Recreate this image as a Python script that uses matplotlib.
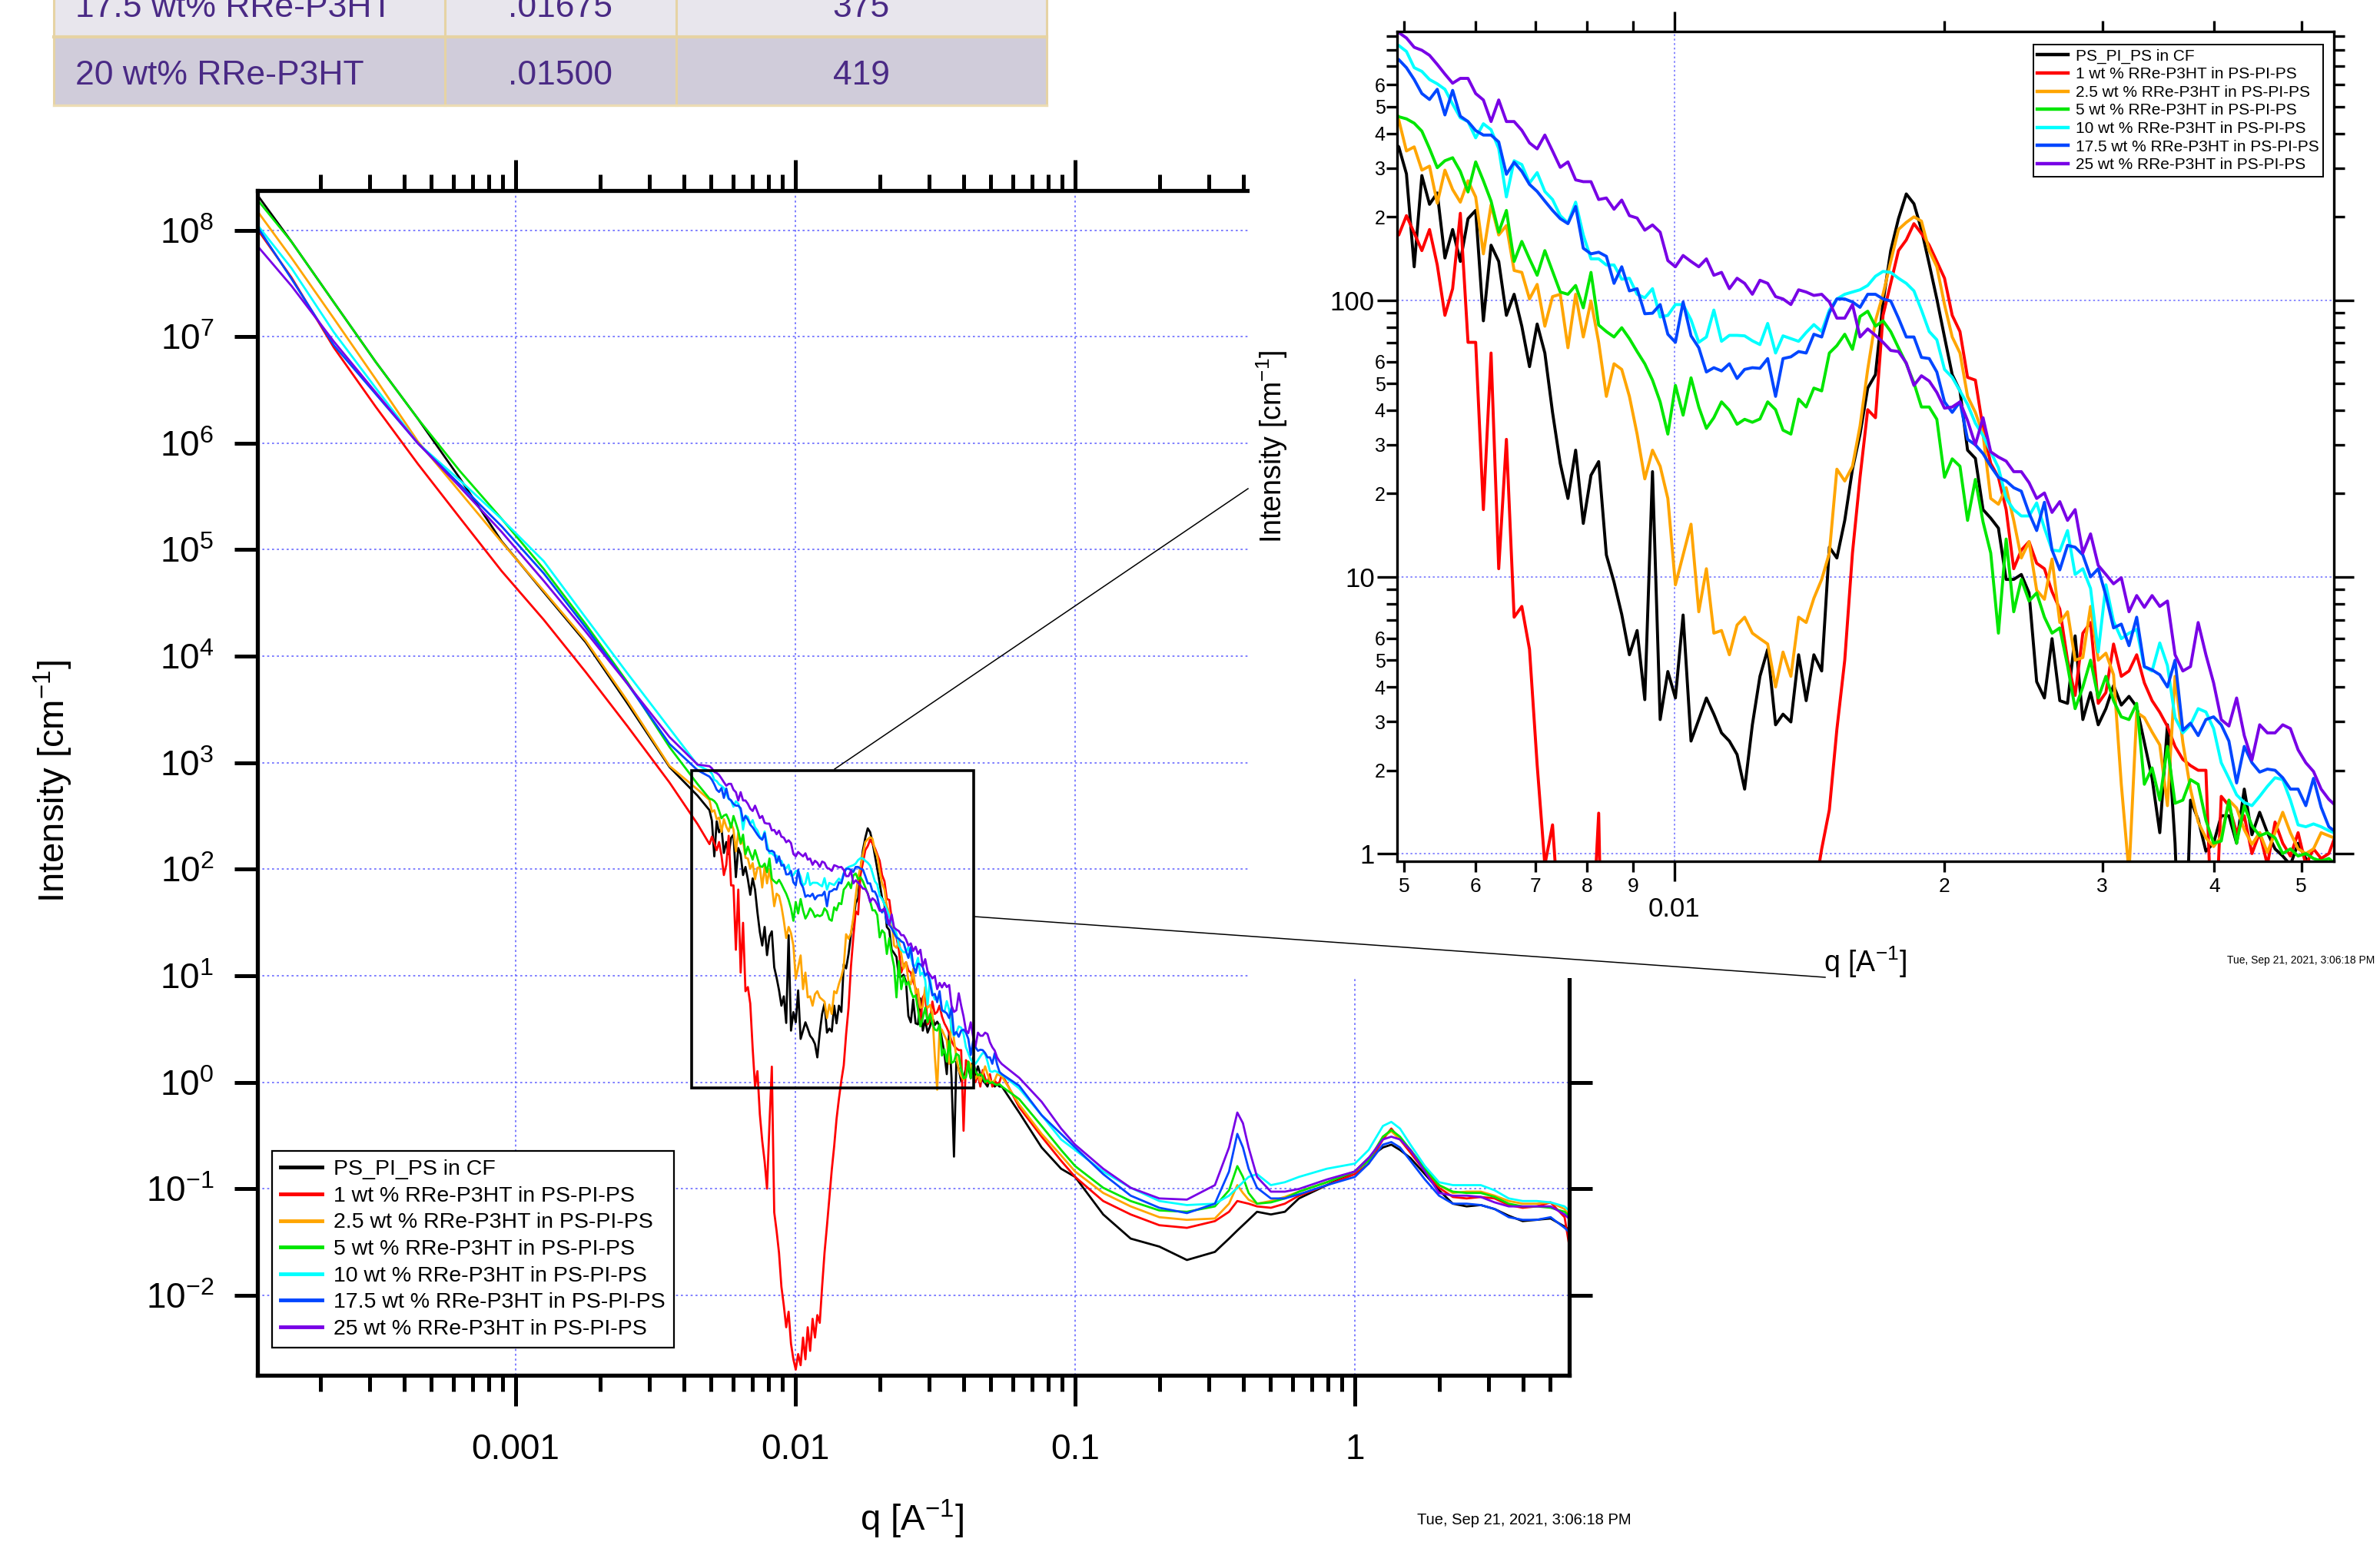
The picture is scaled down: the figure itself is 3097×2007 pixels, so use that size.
from __future__ import annotations

import matplotlib
matplotlib.use("Agg")
import matplotlib.pyplot as plt
from matplotlib.lines import Line2D
from matplotlib.patches import Rectangle
from matplotlib.ticker import FixedFormatter, FixedLocator, LogLocator, NullLocator

# scattering vector q [1/A]: low q, the zoomed window, high q
q_low = [1.20e-4, 1.58e-4, 2.24e-4, 3.16e-4, 4.47e-4, 6.31e-4, 8.91e-4,
         1.26e-3, 1.78e-3, 2.51e-3, 3.55e-3, 4.47e-3]
q_mid = [0.004931, 0.005029, 0.005130, 0.005232, 0.005336, 0.005443, 0.005551, 0.005662,
         0.005775, 0.005890, 0.006007, 0.006127, 0.006249, 0.006373, 0.006500, 0.006630,
         0.006762, 0.006897, 0.007034, 0.007174, 0.007317, 0.007463, 0.007612, 0.007764,
         0.007918, 0.008076, 0.008237, 0.008401, 0.008568, 0.008739, 0.008913, 0.009091,
         0.009272, 0.009457, 0.009645, 0.009837, 0.01003, 0.01023, 0.01044, 0.01065,
         0.01086, 0.01107, 0.01129, 0.01152, 0.01175, 0.01198, 0.01222, 0.01246,
         0.01271, 0.01297, 0.01322, 0.01349, 0.01376, 0.01403, 0.01431, 0.01460,
         0.01489, 0.01518, 0.01549, 0.01580, 0.01611, 0.01643, 0.01676, 0.01709,
         0.01743, 0.01778, 0.01814, 0.01850, 0.01886, 0.01924, 0.01962, 0.02001,
         0.02041, 0.02082, 0.02123, 0.02166, 0.02209, 0.02253, 0.02298, 0.02344,
         0.02390, 0.02437, 0.02486, 0.02535, 0.02586, 0.02637, 0.02690, 0.02744,
         0.02798, 0.02854, 0.02911, 0.02969, 0.03028, 0.03088, 0.03150, 0.03213,
         0.03277, 0.03342, 0.03409, 0.03477, 0.03546, 0.03616, 0.03689, 0.03762,
         0.03837, 0.03914, 0.03992, 0.04071, 0.04152, 0.04235, 0.04319, 0.04405,
         0.04493, 0.04583, 0.04674, 0.04767, 0.04862, 0.04959, 0.05058, 0.05159,
         0.05261, 0.05366, 0.05473]
q_high = [0.0631, 0.0759, 0.0891, 0.100, 0.126, 0.158, 0.200, 0.251, 0.316, 0.355,
          0.380, 0.398, 0.417, 0.447, 0.501, 0.562, 0.631, 0.794, 1.00, 1.12, 1.26,
          1.35, 1.45, 1.58, 1.78, 2.00, 2.24, 2.51, 2.82, 3.16, 3.55, 3.98, 4.47,
          5.01, 5.62, 5.89]

# intensity [1/cm] for each sample
black_low = [2.1e8, 7.8e7, 2.1e7, 5.8e6, 1.7e6, 4.7e5, 1.2e5, 4.0e4, 1.35e4, 3.6e3, 910, 490]
black_mid = [358, 286, 132, 282, 222, 244, 142, 180, 138, 197, 211, 84.2, 158, 138, 88.1, 105,
             80.5, 57.5, 82.0, 64.4, 39.3, 25.7, 19.2, 28.7, 15.6, 23.3, 26.1, 12.0, 9.57, 7.32,
             5.23, 6.40, 3.60, 24.0, 3.05, 4.55, 3.65, 7.28, 2.55, 3.05, 3.65,
             3.19, 2.73, 2.55, 2.28, 1.71, 2.92, 4.37, 5.47, 2.92, 3.19, 2.99, 5.23, 3.57, 5.23,
             4.57, 12.8, 11.7, 16.0, 24.5, 32.8, 48.1, 53.8, 98.5, 151, 197, 242, 223, 180, 135,
             101, 73.6, 53.8, 47.0, 28.7, 26.8, 17.5, 16.3, 15.0, 9.79,
             9.79, 10.2, 8.75, 4.18, 3.65, 5.98, 3.57, 3.49, 6.12, 3.05, 3.82, 2.92, 3.34, 4.05,
             3.44, 3.70, 3.39, 2.52, 1.87, 1.19, 2.92, 1.09, 0.2, 1.56, 1.33, 1.02, 1.09, 1.37,
             1.37, 1.09, 1.71, 1.17, 1.41, 1.19, 1.04, 0.98, 0.91, 1.09, 0.96, 0.91, 0.96, 0.91,
             0.91]
black_high = [0.519, 0.244, 0.154, 0.129, 0.0573, 0.034, 0.0286, 0.0214, 0.0255, 0.034,
              0.0405, 0.0454, 0.051, 0.0607, 0.0573, 0.0607, 0.081, 0.108, 0.145, 0.194,
              0.244, 0.259, 0.231, 0.194, 0.137, 0.0966, 0.0723, 0.0682, 0.0702, 0.0644,
              0.0557, 0.0496, 0.051, 0.0525, 0.0441, 0.0405]

red_low = [1.0e8, 3.6e7, 7.9e6, 2.2e6, 6.4e5, 2.0e5, 6.3e4, 2.2e4, 7.1e3, 2.2e3, 650, 265]
red_mid = [172, 202, 175, 151, 180, 134, 88.1, 110, 206, 70.4, 70.4, 17.5, 64.4, 10.7, 31.4,
           7.15, 7.82, 5.47, 2.09, 0.91, 1.27,
           0.5, 0.28, 0.18, 0.1, 0.4, 1.4, 0.06, 0.04, 0.025, 0.012, 0.008, 0.005, 0.007,
           0.0035, 0.0025, 0.002, 0.0028, 0.0022, 0.004, 0.0025, 0.005, 0.003, 0.006, 0.004,
           0.0065, 0.0055, 0.012, 0.025, 0.045, 0.08, 0.15, 0.25, 0.45, 0.7,
           1.04, 1.44, 2.81, 5.00, 12.2, 22.9, 40.2, 37.6, 88.1, 115, 151, 165, 189, 174, 158,
           138, 120, 88.1, 77.0, 52.6, 51.4, 34.4, 25.7, 22.9, 17.5,
           10.7, 12.5, 13.4, 11.2, 10.7, 8.84, 7.65, 5.00, 3.73, 6.26, 6.84, 3.49, 3.82, 5.72,
           4.37, 4.57, 5.23, 4.14, 3.57, 3.24, 2.88, 2.44, 2.19, 2.08, 2.00, 2.00, 0.35, 1.61,
           1.49, 1.19, 1.37, 1.00, 1.19, 0.91, 1.30, 1.09, 0.98, 1.19, 0.91, 1.04, 0.96, 1.00,
           1.19]
red_high = [0.583, 0.308, 0.183, 0.129, 0.0766, 0.0573, 0.0454, 0.0429, 0.0496, 0.0607,
            0.0766, 0.0744, 0.0723, 0.0682, 0.0662, 0.0723, 0.086, 0.108, 0.137, 0.172,
            0.29, 0.367, 0.29, 0.218, 0.145, 0.102, 0.0836, 0.081, 0.0836, 0.081, 0.0702,
            0.0662, 0.0682, 0.0744, 0.054, 0.0255]

orange_low = [1.48e8, 5.5e7, 1.48e7, 4.0e6, 1.04e6, 3.5e5, 1.18e5, 4.1e4, 1.4e4, 3.8e3, 930, 560]
orange_mid = [448, 346, 358, 295, 305, 224, 295, 251, 226, 270, 236, 147, 221, 172, 186, 128,
              126, 101, 114, 80.5, 103, 105, 67.3, 105, 73.6, 99.3, 70.4, 44.9, 58.9, 56.2,
              44.9, 32.8, 22.6, 28.7, 25.1, 19.2, 9.36, 12.0, 15.5, 7.48, 10.7,
              6.26, 6.40, 5.23, 6.70, 7.15, 6.26, 5.98, 5.72, 4.00, 5.35, 4.37, 7.15, 6.84, 8.37,
              9.79, 12.2, 24.5, 22.2, 25.1, 35.1, 56.2, 84.2, 105, 138, 180, 191, 200, 193, 151,
              132, 96.4, 73.6, 64.4, 44.9, 39.3, 32.8, 19.2, 18.3, 21.0,
              16.0, 11.7, 13.4, 8.95, 8.30, 11.6, 6.84, 7.48, 5.00, 5.11, 7.82, 5.00, 5.30, 4.43,
              1.78, 0.85, 3.24, 3.10, 2.75, 2.47, 1.49, 4.37, 2.52, 1.71, 1.30, 1.14, 1.06, 1.15,
              1.56, 1.46, 1.22, 1.08, 1.19, 1.01, 1.19, 1.41, 1.19, 1.04, 1.00, 1.04, 1.19, 1.16,
              1.13]
orange_high = [0.618, 0.327, 0.205, 0.145, 0.0912, 0.0682, 0.054, 0.051, 0.0525, 0.0723,
               0.108, 0.0912, 0.0788, 0.0723, 0.0766, 0.0836, 0.0938, 0.115, 0.145, 0.183,
               0.308, 0.346, 0.29, 0.231, 0.154, 0.108, 0.0912, 0.0938, 0.0938, 0.086,
               0.0766, 0.0723, 0.0723, 0.0744, 0.0644, 0.054]

green_low = [1.9e8, 7.8e7, 2.1e7, 5.8e6, 1.7e6, 5.5e5, 1.95e5, 6.6e4, 2.0e4, 5.7e3, 1.4e3, 630]
green_mid = [460, 452, 436, 408, 353, 301, 319, 327, 292, 246, 316, 270, 228, 176, 211, 138,
             163, 141, 123, 151, 127, 107, 105, 113, 93.8, 126, 81.3, 77.0, 73.6, 79.5, 72.6,
             65.2, 58.9, 51.4, 42.9, 32.8, 49.2, 38.4, 52.4, 41.1, 34.4,
             37.6, 42.9, 40.0, 35.6, 37.1, 36.2, 37.2, 42.9, 40.2, 33.9, 32.8, 43.9, 41.1, 48.1,
             47.0, 64.4, 68.5, 75.3, 66.4, 87.3, 91.2, 80.5, 84.2, 77.0, 67.3, 58.9, 50.2, 41.1,
             41.1, 37.1, 22.9, 26.7, 25.1, 16.0, 22.5, 15.8, 12.2, 6.26, 13.7,
             7.48, 9.79, 8.18, 8.75, 7.15, 6.26, 6.54, 4.78, 3.34, 4.00, 5.00, 3.65, 4.37, 3.57,
             3.12, 3.05, 3.49, 1.78, 2.04, 1.56, 2.44, 1.52, 1.56, 1.85, 1.78, 1.32, 1.09, 1.11,
             1.56, 1.09, 1.49, 1.26, 1.16, 1.19, 1.14, 1.00, 1.04, 0.98, 1.00, 0.96, 0.94, 0.96,
             0.91]
green_high = [0.694, 0.388, 0.231, 0.163, 0.102, 0.0766, 0.0625, 0.0607, 0.0682, 0.0966,
              0.163, 0.129, 0.0912, 0.0723, 0.0744, 0.081, 0.0938, 0.115, 0.145, 0.183,
              0.308, 0.356, 0.308, 0.231, 0.154, 0.108, 0.0938, 0.0912, 0.0912, 0.0836,
              0.0723, 0.0682, 0.0682, 0.0662, 0.0607, 0.054]

cyan_low = [1.1e8, 4.4e7, 1.1e7, 3.3e6, 1.0e6, 4.5e5, 1.94e5, 7.8e4, 2.3e4, 6.9e3, 2.1e3, 950]
cyan_mid = [832, 792, 692, 671, 627, 605, 578, 511, 456, 442, 386, 434, 413, 353, 236, 319,
            309, 265, 289, 247, 231, 202, 190, 226, 172, 141, 141, 134, 134, 119, 120, 105,
            102, 110, 86.9, 88.1, 96.4, 96.4, 84.9, 70.4, 73.6,
            92.1, 71.0, 74.6, 74.6, 74.3, 71.3, 69.1, 82.4, 64.4, 74.3, 72.6, 71.0, 76.4, 81.6,
            77.0, 92.1, 101, 105, 107, 109, 113, 122, 127, 126, 120, 115, 108, 92.1, 77.0,
            71.9, 56.2, 52.6, 47.0, 42.0, 35.9, 32.4, 28.3, 24.8, 19.2,
            17.5, 16.6, 16.6, 18.5, 15.0, 12.5, 12.4, 14.7, 10.2, 10.7, 9.08, 5.35, 9.36, 6.91,
            5.98, 6.26, 6.46, 4.72, 4.57, 5.77, 4.78, 3.10, 2.73, 2.92, 3.34, 3.25, 2.83, 2.13,
            1.87, 1.63, 1.53, 1.49, 1.61, 1.75, 1.88, 1.85, 1.56, 1.27, 1.25, 1.28, 1.25, 1.21,
            1.18]
cyan_high = [0.875, 0.49, 0.29, 0.231, 0.145, 0.102, 0.0766, 0.0702, 0.0723, 0.086, 0.102,
             0.115, 0.129, 0.137, 0.108, 0.115, 0.129, 0.154, 0.172, 0.231, 0.388, 0.424,
             0.367, 0.259, 0.163, 0.115, 0.108, 0.108, 0.108, 0.0966, 0.081, 0.0766, 0.0766,
             0.0744, 0.0682, 0.0607]

blue_low = [1.05e8, 3.5e7, 8.3e6, 2.9e6, 1.0e6, 4.1e5, 1.66e5, 6.0e4, 1.86e4, 5.5e3, 1.5e3, 850]
blue_mid = [740, 692, 627, 558, 531, 578, 467, 573, 462, 442, 410, 395, 395, 373, 285, 315,
            292, 262, 247, 228, 211, 197, 189, 218, 154, 147, 149, 144, 115, 132, 108, 110,
            89.3, 89.7, 96.4, 75.3, 70.4, 98.5, 74.3, 67.3, 55.0,
            57.0, 55.5, 58.9, 52.1, 56.2, 57.0, 56.7, 61.5, 44.9, 61.5, 62.4, 65.2, 64.4, 75.3,
            73.6, 90.1, 101, 101, 98.5, 94.2, 105, 105, 101, 99.3, 86.1, 73.6, 73.6, 62.1, 61.5,
            55.0, 42.9, 39.3, 42.9, 31.4, 30.0, 27.9, 25.1, 22.9, 22.2,
            21.0, 20.4, 17.0, 14.7, 18.6, 12.5, 10.6, 13.0, 12.8, 12.0, 10.0, 10.7, 8.56, 6.54,
            6.75, 5.64, 7.15, 4.74, 4.61, 4.43, 4.00, 5.00, 2.79, 2.96, 2.67, 3.05, 3.12, 2.92,
            2.55, 1.80, 2.44, 2.13, 1.97, 2.02, 2.00, 1.88, 1.71, 1.71, 1.49, 1.87, 1.47, 1.25,
            1.19]
blue_high = [0.927, 0.49, 0.327, 0.244, 0.137, 0.086, 0.0662, 0.059, 0.0723, 0.145, 0.327,
             0.244, 0.154, 0.102, 0.081, 0.081, 0.0885, 0.108, 0.129, 0.172, 0.259, 0.274,
             0.244, 0.183, 0.122, 0.086, 0.0723, 0.0723, 0.0702, 0.0644, 0.054, 0.051, 0.051,
             0.054, 0.0429, 0.0382]

purple_low = [7.0e7, 3.0e7, 9.0e6, 3.0e6, 1.0e6, 3.9e5, 1.47e5, 5.1e4, 1.7e4, 5.5e3, 1.74e3, 960]
purple_mid = [927, 886, 820, 800, 767, 711, 656, 608, 633, 633, 558, 529, 442, 529, 442, 442,
              411, 370, 352, 395, 346, 302, 316, 272, 268, 268, 231, 234, 213, 230, 202, 198,
              179, 187, 176, 139, 132, 145, 138, 132, 141,
              123, 126, 110, 120, 115, 105, 118, 115, 103, 101, 96.4, 109, 107, 104, 105, 98.5,
              86.1, 86.1, 96.4, 73.6, 78.7, 74.6, 70.4, 65.8, 65.2, 59.3, 49.2, 53.3, 51.0, 46.4,
              40.7, 41.1, 42.9, 36.7, 30.0, 37.6, 28.3, 27.1, 26.2,
              24.0, 24.0, 21.9, 19.2, 20.1, 17.1, 18.7, 16.0, 17.5, 12.2, 14.3, 11.0, 10.2, 9.44,
              9.93, 7.48, 8.56, 7.76, 8.56, 7.82, 8.18, 5.23, 4.57, 4.74, 6.84, 5.23, 4.14, 3.05,
              2.89, 3.65, 2.67, 2.18, 2.92, 2.73, 2.73, 2.92, 2.83, 2.37, 2.13, 1.98, 1.71, 1.57,
              1.48]
purple_high = [1.10, 0.655, 0.367, 0.259, 0.154, 0.102, 0.081, 0.079, 0.108, 0.244, 0.519,
               0.412, 0.244, 0.129, 0.0938, 0.0938, 0.0994, 0.122, 0.145, 0.194, 0.29, 0.308,
               0.29, 0.231, 0.145, 0.0912, 0.086, 0.086, 0.0836, 0.0744, 0.0682, 0.0682,
               0.0682, 0.0682, 0.0573, 0.051]

series_labels = ["PS_PI_PS in CF",
                 "1 wt % RRe-P3HT in PS-PI-PS",
                 "2.5 wt % RRe-P3HT in PS-PI-PS",
                 "5 wt % RRe-P3HT in PS-PI-PS",
                 "10 wt % RRe-P3HT in PS-PI-PS",
                 "17.5 wt % RRe-P3HT in PS-PI-PS",
                 "25 wt % RRe-P3HT in PS-PI-PS"]
series_colors = ["#000000", "#ff0000", "#ffa500", "#00e600", "#00ffff", "#0046ff", "#7800e6"]

table_rows = [("17.5 wt% RRe-P3HT", ".01675", "375"),
              ("20 wt% RRe-P3HT", ".01500", "419")]
stamp = "Tue, Sep 21, 2021, 3:06:18 PM"

W, H = 3097, 2007
GRID = "#6b6bff"
NARROW = ["Liberation Sans Narrow", "Liberation Sans", "DejaVu Sans"]


def fx(px):
    return px / W


def fy(py):
    return 1 - py / H


def main() -> None:
    plt.rcParams["font.family"] = ["Liberation Sans", "DejaVu Sans"]
    plt.rcParams["mathtext.fontset"] = "custom"
    plt.rcParams["mathtext.rm"] = "Liberation Sans"
    plt.rcParams["mathtext.it"] = "Liberation Sans:italic"
    plt.rcParams["mathtext.bf"] = "Liberation Sans:bold"

    q = q_low + q_mid + q_high
    curves = [black_low + black_mid + black_high,
              red_low + red_mid + red_high,
              orange_low + orange_mid + orange_high,
              green_low + green_mid + green_high,
              cyan_low + cyan_mid + cyan_high,
              blue_low + blue_mid + blue_high,
              purple_low + purple_mid + purple_high]

    fig = plt.figure(figsize=(W / 100, H / 100), dpi=100)

    # ---- main graph ----
    ax = fig.add_axes([fx(334.5), fy(1790), fx(2042) - fx(334.5), fy(247.7) - fy(1790)])
    ax.set_zorder(0)
    for y, c, lab in zip(curves, series_colors, series_labels):
        ax.plot(q, y, color=c, lw=2.0, label=lab)
    ax.set_xscale("log")
    ax.set_yscale("log")
    ax.set_xlim(1.19e-4, 5.84)
    ax.set_ylim(1.77e-3, 2.37e8)

    ax.xaxis.set_major_locator(FixedLocator([1e-3, 1e-2, 1e-1, 1.0]))
    ax.xaxis.set_major_formatter(FixedFormatter(["0.001", "0.01", "0.1", "1"]))
    ax.xaxis.set_minor_locator(LogLocator(base=10, subs=range(2, 10), numticks=30))
    ax.yaxis.set_major_locator(FixedLocator([10.0 ** k for k in range(-2, 9)]))
    ax.yaxis.set_major_formatter(FixedFormatter([r"$\mathregular{10^{%d}}$" % k for k in range(-2, 9)]))
    ax.yaxis.set_minor_locator(NullLocator())

    ax.tick_params(which="both", direction="out", top=True, right=True, width=3.6)
    ax.tick_params(axis="x", which="major", length=29, pad=25, labelsize=33)
    ax.tick_params(axis="x", which="minor", length=15)
    ax.tick_params(axis="y", which="major", length=21.5, pad=19, labelsize=33)
    for s in ax.spines.values():
        s.set_linewidth(3.8)
    ax.grid(True, which="major", color=GRID, lw=1.2, linestyle=(0, (1.6, 2.2)))

    # zoom window
    ax.add_patch(Rectangle((4.26e-3, 0.886), 0.0433 - 4.26e-3, 849 - 0.886,
                           fill=False, edgecolor="black", lw=2.6, zorder=5))

    leg = ax.legend(loc="upper left", bbox_to_anchor=(fx(354), fy(1498)),
                    bbox_transform=fig.transFigure, fontsize=20.5, frameon=True,
                    fancybox=False, edgecolor="black", framealpha=1, borderpad=0.4,
                    labelspacing=0.3, handlelength=1.9, handletextpad=0.5, borderaxespad=0)
    leg.get_frame().set_linewidth(1.6)
    for ln in leg.get_lines():
        ln.set_linewidth(3.5)

    fig.text(fx(69), fy(1017), "Intensity [cm$^{-1}$]", rotation=90, ha="center",
             va="center", fontsize=34)
    fig.text(fx(1187), fy(1977), "q [A$^{-1}$]", ha="center", va="center", fontsize=34)

    # white sheet behind the inset graph
    fig.add_artist(Rectangle((fx(1626), fy(1273)), 1 - fx(1626), 1 - fy(1273),
                             transform=fig.transFigure, facecolor="white",
                             edgecolor="none", zorder=1))

    # ---- inset graph ----
    ins = fig.add_axes([fx(1818), fy(1121), fx(3037) - fx(1818), fy(40.5) - fy(1121)])
    ins.set_zorder(2)
    for y, c, lab in zip(curves, series_colors, series_labels):
        ins.plot(q, y, color=c, lw=2.8, label=lab)
    ins.set_xscale("log")
    ins.set_yscale("log")
    ins.set_xlim(4.91e-3, 0.05436)
    ins.set_ylim(0.938, 938)

    ins.xaxis.set_major_locator(FixedLocator([0.01]))
    ins.xaxis.set_major_formatter(FixedFormatter(["0.01"]))
    xminor = [0.005, 0.006, 0.007, 0.008, 0.009, 0.02, 0.03, 0.04, 0.05]
    ins.xaxis.set_minor_locator(FixedLocator(xminor))
    ins.xaxis.set_minor_formatter(FixedFormatter(["5", "6", "7", "8", "9", "2", "3", "4", "5"]))
    ins.yaxis.set_major_locator(FixedLocator([1.0, 10.0, 100.0]))
    ins.yaxis.set_major_formatter(FixedFormatter(["1", "10", "100"]))
    yminor = [m * d for d in (1, 10, 100) for m in range(2, 10)]
    ins.yaxis.set_minor_locator(FixedLocator(yminor))
    ins.yaxis.set_minor_formatter(FixedFormatter(
        [str(m) if m <= 6 else "" for d in (1, 10, 100) for m in range(2, 10)]))

    ins.tick_params(which="both", direction="out", top=True, right=True, width=2.4,
                    labelfontfamily=NARROW)
    ins.tick_params(which="major", length=19)
    ins.tick_params(which="minor", length=10)
    ins.tick_params(axis="x", which="major", pad=14, labelsize=25)
    ins.tick_params(axis="x", which="minor", pad=5, labelsize=19)
    ins.tick_params(axis="y", which="major", pad=2, labelsize=25)
    ins.tick_params(axis="y", which="minor", pad=1, labelsize=18)
    for s in ins.spines.values():
        s.set_linewidth(2.4)
    ins.grid(True, which="major", color=GRID, lw=1.1, linestyle=(0, (1.6, 2.2)))

    ileg = ins.legend(loc="upper left", bbox_to_anchor=(fx(2646), fy(58)),
                      bbox_transform=fig.transFigure, prop={"family": NARROW, "size": 15},
                      frameon=True, fancybox=False, edgecolor="black", framealpha=1,
                      borderpad=0.26, labelspacing=0.22, handlelength=1.9,
                      handletextpad=0.46, borderaxespad=0)
    ileg.get_frame().set_linewidth(1.4)
    for ln in ileg.get_lines():
        ln.set_linewidth(3.2)

    fig.text(fx(1655), fy(581), "Intensity [cm$^{-1}$]", rotation=90, ha="center",
             va="center", fontsize=27)
    fig.text(fx(2427), fy(1252), "q [A$^{-1}$]", ha="center", va="center", fontsize=27)

    # connector lines from the zoom window
    fig.add_artist(Line2D([fx(1086), fx(1624)], [fy(1001), fy(636)],
                          transform=fig.transFigure, color="black", lw=1.1, zorder=3))
    fig.add_artist(Line2D([fx(1268), fx(2375)], [fy(1193), fy(1272)],
                          transform=fig.transFigure, color="black", lw=1.1, zorder=3))

    # time stamps
    fig.text(fx(3090), fy(1250), stamp, ha="right", va="center", fontsize=10, family=NARROW)
    fig.text(fx(2123), fy(1978), stamp, ha="right", va="center", fontsize=14.5, family=NARROW)

    # table fragment at the top
    edges_x = [69.6, 578.6, 879.5, 1361.6]
    row_tops = [-40.0, 48.3]
    row_bottoms = [48.3, 136.7]
    row_fill = ["#e8e6ed", "#d0ccda"]
    baselines = [21.7, 110.0]
    for top, bot, fill, base, row in zip(row_tops, row_bottoms, row_fill, baselines, table_rows):
        fig.add_artist(Rectangle((fx(edges_x[0]), fy(bot)), fx(edges_x[-1]) - fx(edges_x[0]),
                                 fy(top) - fy(bot), transform=fig.transFigure,
                                 facecolor=fill, edgecolor="none", zorder=4))
        fig.text(fx(98), fy(base), row[0], ha="left", va="baseline", fontsize=32,
                 color="#4a2a85", zorder=6)
        fig.text(fx((edges_x[1] + edges_x[2]) / 2), fy(base), row[1], ha="center",
                 va="baseline", fontsize=32, color="#4a2a85", zorder=6)
        fig.text(fx((edges_x[2] + edges_x[3]) / 2), fy(base), row[2], ha="center",
                 va="baseline", fontsize=32, color="#4a2a85", zorder=6)
    for ex in edges_x:
        fig.add_artist(Line2D([fx(ex), fx(ex)], [fy(-40), fy(136.7)], transform=fig.transFigure,
                              color="#e6d3a4", lw=2.2, zorder=5))
    fig.add_artist(Line2D([fx(edges_x[0]), fx(edges_x[-1])], [fy(48.3), fy(48.3)],
                          transform=fig.transFigure, color="#e6d3a4", lw=3.0, zorder=5))
    fig.add_artist(Line2D([fx(edges_x[0]), fx(edges_x[-1])], [fy(136.7), fy(136.7)],
                          transform=fig.transFigure, color="#ecdcb4", lw=2.4, zorder=5))

    fig.savefig("out.png", dpi=100, facecolor="white")


if __name__ == "__main__":
    main()
